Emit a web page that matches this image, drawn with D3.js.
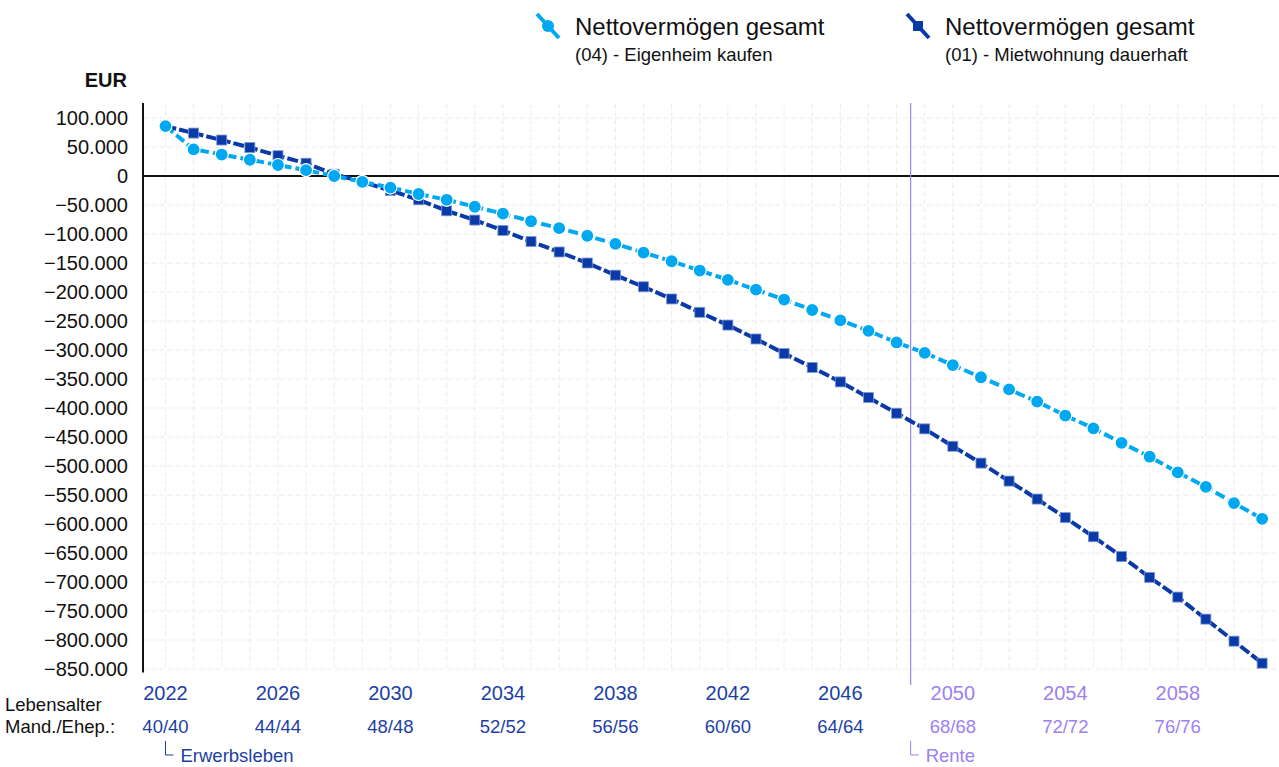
<!DOCTYPE html>
<html>
<head>
<meta charset="utf-8">
<script src="https://cdn.jsdelivr.net/npm/d3@7"></script>
<style>
  html, body { margin: 0; padding: 0; background: #fff; }
  svg { display: block; font-family: "Liberation Sans", Arial, sans-serif; }
</style>
</head>
<body>
<div id="chart"></div>
<script>
// Jahre (Kategorien)
const years = [2022, 2023, 2024, 2025, 2026, 2027, 2028, 2029, 2030, 2031,
  2032, 2033, 2034, 2035, 2036, 2037, 2038, 2039, 2040, 2041,
  2042, 2043, 2044, 2045, 2046, 2047, 2048, 2049, 2050, 2051,
  2052, 2053, 2054, 2055, 2056, 2057, 2058, 2059, 2060, 2061];

// Nettovermögen in Tsd. EUR
const eigenheim = [86, 46, 37, 28, 19, 10, 0, -10, -20, -31,
  -41, -53, -65, -78, -90, -103, -117, -132, -147, -163,
  -179, -196, -213, -231, -249, -267, -287, -305, -326, -347,
  -368, -389, -413, -435, -460, -484, -511, -536, -564, -591];
const miete = [86, 74, 62, 49, 35, 22, 3, -10, -25, -41,
  -60, -76, -94, -113, -131, -150, -171, -191, -212, -235,
  -257, -281, -306, -330, -355, -382, -409, -436, -466, -495,
  -526, -557, -589, -622, -656, -692, -726, -764, -802, -840];

const tickYears = [2022, 2026, 2030, 2034, 2038, 2042, 2046, 2050, 2054, 2058];
const ageLabels = ["40/40", "44/44", "48/48", "52/52", "56/56", "60/60", "64/64", "68/68", "72/72", "76/76"];
const yTicks = [100, 50, 0, -50, -100, -150, -200, -250, -300, -350, -400, -450, -500, -550, -600, -650, -700, -750, -800, -850];
const rentenBeginn = 2048.5;

const series = [
  { name: "Nettovermögen gesamt", sub: "(01) - Mietwohnung dauerhaft", values: miete, color: "#0a3aa8", marker: "square" },
  { name: "Nettovermögen gesamt", sub: "(04) - Eigenheim kaufen", values: eigenheim, color: "#00a8f2", marker: "circle" }
];

const W = 1279, H = 767;
const blue = "#1c3fa6", purple = "#9d80f2";

const svg = d3.select("#chart").append("svg").attr("width", W).attr("height", H);

const x = d3.scaleLinear().domain([2021.2, 2061.6]).range([143, 1279]);
const y = d3.scaleLinear().domain([-850, 100]).range([669, 118]);

// Raster
const grid = svg.append("g").attr("stroke", "#ececec").attr("stroke-dasharray", "5,3").attr("stroke-width", 1);
grid.selectAll(".gx").data(years).enter().append("line")
  .attr("x1", d => x(d)).attr("x2", d => x(d))
  .attr("y1", y(126)).attr("y2", y(-852));
grid.selectAll(".gy").data(yTicks).enter().append("line")
  .attr("x1", x(2021.2)).attr("x2", W)
  .attr("y1", d => y(d)).attr("y2", d => y(d));

// Y-Achse
const fmt = d => d === 0 ? "0" : d3.format(",")(d * 1000).replace(/,/g, ".");
svg.append("g").selectAll("text").data(yTicks).enter().append("text")
  .attr("x", 128).attr("y", d => y(d)).attr("dy", "0.35em")
  .attr("text-anchor", "end").attr("font-size", 20).attr("fill", "#111")
  .text(fmt);

svg.append("text").attr("x", 127).attr("y", 87).attr("text-anchor", "end")
  .attr("font-size", 20).attr("font-weight", "bold").attr("fill", "#111").text("EUR");

svg.append("line").attr("x1", 143).attr("x2", 143).attr("y1", y(126)).attr("y2", y(-856))
  .attr("stroke", "#111").attr("stroke-width", 2);
svg.append("line").attr("x1", 143).attr("x2", W).attr("y1", y(0)).attr("y2", y(0))
  .attr("stroke", "#111").attr("stroke-width", 2);

// Rentenbeginn
svg.append("line").attr("x1", x(rentenBeginn)).attr("x2", x(rentenBeginn))
  .attr("y1", y(126)).attr("y2", 685)
  .attr("stroke", "#9a86ea").attr("stroke-width", 1.2);

// Linien + Marker
const line = d3.line().x((d, i) => x(years[i])).y(d => y(d));
series.forEach(s => {
  const g = svg.append("g");
  g.append("path").datum(s.values).attr("d", line)
    .attr("fill", "none").attr("stroke", s.color).attr("stroke-width", 4)
    .attr("stroke-dasharray", s.marker === "circle" ? "10,4" : "11,3");
  if (s.marker === "circle") {
    g.selectAll("circle").data(s.values).enter().append("circle")
      .attr("cx", (d, i) => x(years[i])).attr("cy", d => y(d)).attr("r", 6.5)
      .attr("fill", s.color).attr("stroke", "#fff").attr("stroke-width", 1.2);
  } else {
    g.selectAll("rect").data(s.values).enter().append("rect")
      .attr("x", (d, i) => x(years[i]) - 5).attr("y", d => y(d) - 5)
      .attr("width", 10).attr("height", 10)
      .attr("fill", s.color).attr("stroke", "#7d97d6").attr("stroke-width", 0.8);
  }
});

// X-Beschriftung
const xl = svg.append("g");
xl.selectAll(".yr").data(tickYears).enter().append("text")
  .attr("x", d => x(d)).attr("y", 700).attr("text-anchor", "middle")
  .attr("font-size", 20).attr("fill", d => d > rentenBeginn ? purple : blue)
  .text(d => d);
xl.selectAll(".age").data(ageLabels).enter().append("text")
  .attr("x", (d, i) => x(tickYears[i])).attr("y", 733).attr("text-anchor", "middle")
  .attr("font-size", 18.5).attr("fill", (d, i) => tickYears[i] > rentenBeginn ? purple : blue)
  .text(d => d);

svg.append("text").attr("x", 5).attr("y", 711).attr("font-size", 18.5).attr("fill", "#111").text("Lebensalter");
svg.append("text").attr("x", 5).attr("y", 733).attr("font-size", 18.5).attr("fill", "#111").text("Mand./Ehep.:");

// Phasen
const phases = [
  { label: "Erwerbsleben", at: years[0], color: blue },
  { label: "Rente", at: rentenBeginn, color: purple }
];
phases.forEach(p => {
  const px = x(p.at);
  svg.append("path").attr("d", `M${px},741V755H${px + 8}`)
    .attr("fill", "none").attr("stroke", p.color).attr("stroke-width", 1);
  svg.append("text").attr("x", px + 15).attr("y", 762).attr("font-size", 18.5)
    .attr("fill", p.color).text(p.label);
});

// Legende
const legendPos = [{ x: 548, s: series[1] }, { x: 918, s: series[0] }];
legendPos.forEach(l => {
  const g = svg.append("g").attr("transform", `translate(${l.x},26)`);
  g.append("line").attr("x1", -11).attr("y1", -12).attr("x2", 11).attr("y2", 12)
    .attr("stroke", l.s.color).attr("stroke-width", 4);
  if (l.s.marker === "circle") {
    g.append("circle").attr("r", 6).attr("fill", l.s.color);
  } else {
    g.append("rect").attr("x", -5).attr("y", -5).attr("width", 10).attr("height", 10).attr("fill", l.s.color);
  }
  g.append("text").attr("x", 27).attr("y", 9).attr("font-size", 24).attr("fill", "#111").text(l.s.name);
  g.append("text").attr("x", 27).attr("y", 35).attr("font-size", 18.5).attr("fill", "#111").text(l.s.sub);
});
</script>
</body>
</html>
